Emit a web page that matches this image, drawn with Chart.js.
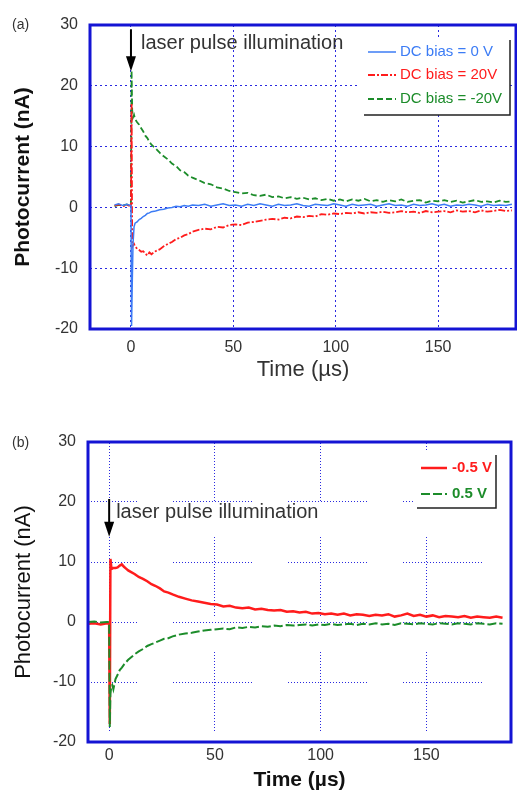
<!DOCTYPE html>
<html>
<head>
<meta charset="utf-8">
<title>Photocurrent transients</title>
<script src="https://cdn.jsdelivr.net/npm/chart.js@4.4.1/dist/chart.umd.min.js"></script>
<style>
  body { margin: 0; background: #fff; width: 517px; height: 793px; overflow: hidden; }
  canvas { position: absolute; left: 0; }
  #chartA { top: 0; }
  #chartB { top: 400px; }
</style>
</head>
<body>
<canvas id="chartA" width="517" height="395"></canvas>
<canvas id="chartB" width="517" height="393"></canvas>
<script>
// ---- panel (a): DC bias series ----
const timeA = [-8, -6, -4, -2, -1,
  0, 0.3, 0.6, 1, 1.5, 2,
  3, 4, 5, 6, 7, 8, 9, 10,
  12, 14, 16, 18, 20, 22, 24, 26, 28, 30,
  33, 36, 39, 42, 45, 48, 51, 54, 57, 60,
  63, 66, 69, 72, 75, 78, 81, 84, 87, 90,
  93, 96, 99, 102, 105, 108, 111, 114, 117, 120,
  123, 126, 129, 132, 135, 138, 141, 144, 147, 150,
  153, 156, 159, 162, 165, 168, 171, 174, 177, 180,
  183, 186];
const bias0V = [0.4, 0.6, 0.3, 0.5, 0.4,
  0.3, -19.5, -13, -6, -3.2, -2.6,
  -2.4, -2.0, -1.8, -1.5, -1.3, -1.0, -0.9, -0.7,
  -0.6, -0.4, -0.3, -0.1, 0.0, 0.2, 0.1, 0.3, 0.2, 0.4,
  0.3, 0.5, 0.2, 0.4, 0.6, 0.3, 0.4, 0.2, 0.5, 0.3,
  0.6, 0.4, 0.2, 0.5, 0.3, 0.4, 0.6, 0.3, 0.2, 0.5,
  0.4, 0.3, 0.6, 0.4, 0.2, 0.5, 0.3, 0.4, 0.5, 0.2,
  0.4, 0.6, 0.3, 0.4, 0.2, 0.5, 0.3, 0.4, 0.6, 0.3,
  0.5, 0.2, 0.4, 0.3, 0.5, 0.4, 0.2, 0.5, 0.3, 0.4,
  0.3, 0.5];
const bias20V = [0.3, 0.5, 0.2, 0.4, 0.3,
  0.3, 17, -6.5, -6.2, -6.0, -6.4,
  -6.8, -7.0, -7.3, -7.2, -7.6, -7.9, -7.4, -7.7,
  -7.2, -6.9, -6.4, -6.0, -5.7, -5.2, -5.0, -4.6, -4.4, -4.0,
  -3.7, -3.5, -3.6, -3.2, -3.3, -2.9, -2.8, -2.9, -2.5, -2.4,
  -2.2, -2.0, -1.9, -2.0, -1.7, -1.8, -1.5, -1.6, -1.4, -1.5,
  -1.1, -1.2, -1.0, -1.1, -0.9, -1.0, -0.8, -1.0, -0.8, -0.9,
  -0.7, -0.9, -0.8, -0.6, -0.8, -0.7, -0.9, -0.6, -0.8, -0.7,
  -0.6, -0.8, -0.5, -0.7, -0.6, -0.8, -0.5, -0.7, -0.6, -0.4,
  -0.6, -0.5];
const biasMinus20V = [0.2, 0.4, 0.3, 0.5, 0.3,
  0.3, 22.5, 16, 14.8, 15.2, 14.5,
  14.0, 13.6, 13.0, 12.5, 11.8, 11.4, 10.8, 10.3,
  9.7, 9.0, 8.4, 7.9, 7.2, 6.8, 6.1, 5.8, 5.2, 4.9,
  4.5, 4.0, 3.8, 3.3, 3.1, 2.7, 2.5, 2.3, 2.4, 2.0,
  1.9, 2.1, 1.7, 1.8, 1.5, 1.7, 1.4, 1.6, 1.3, 1.5,
  1.2, 1.4, 1.1, 1.3, 1.0, 1.3, 1.1, 1.4, 1.0, 1.2,
  0.9, 1.2, 1.0, 1.3, 0.9, 1.1, 1.2, 0.8, 1.1, 1.0,
  1.2, 0.9, 1.1, 0.8, 1.0, 1.2, 0.9, 1.0, 0.8, 1.1,
  0.9, 1.0];

// ---- panel (b): +/-0.5 V series ----
const timeB = [-10, -7, -4, -1,
  0, 0.3, 0.6, 1, 1.5, 2,
  3, 4, 5, 6, 7, 8, 9, 10,
  12, 14, 16, 18, 20, 22, 24, 26, 28, 30,
  33, 36, 39, 42, 45, 48, 51, 54, 57, 60,
  63, 66, 69, 72, 75, 78, 81, 84, 87, 90,
  93, 96, 99, 102, 105, 108, 111, 114, 117, 120,
  123, 126, 129, 132, 135, 138, 141, 144, 147, 150,
  153, 156, 159, 162, 165, 168, 171, 174, 177, 180,
  183, 186];
const biasMinus05V = [-0.3, -0.2, -0.4, -0.2,
  -0.3, -17, 10.5, 9.2, 8.9, 9.0,
  9.0, 9.1, 9.4, 9.6, 9.2, 8.9, 8.6, 8.4,
  8.0, 7.5, 7.2, 6.8, 6.3, 6.0, 5.6, 5.1, 4.9, 4.6,
  4.2, 3.9, 3.6, 3.4, 3.2, 3.0, 2.9, 2.6, 2.7, 2.4,
  2.3, 2.4, 2.1, 2.2, 2.0, 1.9, 2.0, 1.7, 1.8, 1.6,
  1.7, 1.4, 1.5, 1.3, 1.4, 1.2, 1.4, 1.1, 1.3, 1.2,
  1.0, 1.2, 1.1, 1.3, 0.9, 1.1, 1.4, 1.0, 1.2, 0.9,
  1.1, 0.8, 1.0, 0.9, 0.8, 1.0, 0.7, 0.9, 0.8, 0.7,
  0.9, 0.7];
const bias05V = [0.0, 0.1, -0.1, 0.0,
  0.0, -17.5, -12, -10.8, -10.5, -11.2,
  -9.5, -8.8, -8.0, -7.6, -7.1, -6.7, -6.3, -6.0,
  -5.4, -4.9, -4.5, -4.0, -3.7, -3.4, -3.1, -2.8, -2.7, -2.4,
  -2.1, -1.9, -1.8, -1.6, -1.4, -1.3, -1.2, -1.1, -1.2, -0.9,
  -1.0, -0.8, -0.9, -0.7, -0.8, -0.6, -0.7, -0.5, -0.6, -0.5,
  -0.4, -0.6, -0.4, -0.5, -0.3, -0.5, -0.4, -0.3, -0.5, -0.3,
  -0.4, -0.2, -0.4, -0.3, -0.5, -0.2, -0.3, -0.4, -0.2, -0.3,
  -0.4, -0.2, -0.3, -0.4, -0.2, -0.3, -0.4, -0.2, -0.3, -0.4,
  -0.2, -0.3];

// ticks
const xTicks = [0, 50, 100, 150];
const yTicks = [-20, -10, 0, 10, 20, 30];

const frameBlue = "#1414d4";
const gridBlue = "#2a2ae0";
const blue = "#3c7cf5";
const red = "#ff1c1c";
const green = "#1c8c2a";

// dotted grid for (a); broken dotted runs for (b)
const dottedDash = [2, 3];
const brokenDash = Array.from({ length: 26 }).flatMap(() => [1, 2]).concat([1, 36]);

Chart.defaults.font.family = '"Liberation Sans", Arial, sans-serif';

function toPoints(xs, ys) {
  return xs.map((t, i) => ({ x: t, y: ys[i] }));
}

// frame, panel tag, arrow note and boxed legend
const decorPlugin = {
  id: "decor",
  afterDatasetsDraw(chart, args, o) {
    const { ctx, chartArea: a, scales: { x, y } } = chart;
    ctx.save();

    // legend background hides the grid behind it
    const L = o.legend;
    ctx.fillStyle = "#fff";
    ctx.fillRect(L.bgLeft, L.bgTop, L.right - L.bgLeft, L.bottom - L.bgTop);

    ctx.strokeStyle = frameBlue;
    ctx.lineWidth = 3;
    ctx.strokeRect(a.left, a.top, a.right - a.left, a.bottom - a.top);

    ctx.fillStyle = "#333";
    ctx.font = '14px "Liberation Sans", Arial';
    ctx.textBaseline = "middle";
    ctx.textAlign = "left";
    ctx.fillText(o.panel, o.panelX, o.panelY);

    // arrow for the laser pulse
    const ar = o.arrow;
    const ax = x.getPixelForValue(ar.t);
    const y0 = y.getPixelForValue(ar.from);
    const y1 = y.getPixelForValue(ar.to);
    ctx.strokeStyle = "#000";
    ctx.lineWidth = 2;
    ctx.beginPath();
    ctx.moveTo(ax, y0);
    ctx.lineTo(ax, y1 - 12);
    ctx.stroke();
    ctx.fillStyle = "#000";
    ctx.beginPath();
    ctx.moveTo(ax - 5, y1 - 15);
    ctx.lineTo(ax + 5, y1 - 15);
    ctx.lineTo(ax, y1);
    ctx.closePath();
    ctx.fill();
    ctx.fillStyle = "#333";
    ctx.font = ar.font;
    ctx.fillText(ar.label, ax + ar.dx, y.getPixelForValue(ar.labelY));

    // legend box (shadow lines right and bottom)
    ctx.strokeStyle = "#222";
    ctx.lineWidth = 1.5;
    ctx.beginPath();
    ctx.moveTo(L.right, L.top);
    ctx.lineTo(L.right, L.bottom);
    ctx.lineTo(L.left, L.bottom);
    ctx.stroke();
    ctx.font = L.font;
    chart.data.datasets.forEach((ds, i) => {
      const ry = L.rows[i];
      ctx.strokeStyle = ds.borderColor;
      ctx.lineWidth = ds.borderWidth;
      ctx.setLineDash(ds.borderDash || []);
      ctx.beginPath();
      ctx.moveTo(L.sx0, ry);
      ctx.lineTo(L.sx1, ry);
      ctx.stroke();
      ctx.setLineDash([]);
      ctx.fillStyle = ds.borderColor;
      ctx.fillText(ds.label, L.tx, ry);
    });
    ctx.restore();
  }
};

function scalesFor(opt) {
  return {
    x: {
      type: "linear",
      min: opt.xMin,
      max: opt.xMax,
      afterBuildTicks: s => { s.ticks = xTicks.map(v => ({ value: v })); },
      afterFit: s => { s.height = opt.xHeight; },
      grid: { color: gridBlue, lineWidth: 1, drawTicks: false },
      border: { display: false, dash: opt.gridDash, dashOffset: opt.xDashOffset },
      ticks: { padding: opt.xTickPad, color: "#333", font: { size: 16 } },
      title: {
        display: true,
        text: "Time (µs)",
        color: opt.titleColor,
        font: { size: opt.xTitleSize, weight: opt.xTitleWeight },
        padding: { top: 0, bottom: opt.xTitlePad }
      }
    },
    y: {
      type: "linear",
      min: -20,
      max: 30,
      afterBuildTicks: s => { s.ticks = yTicks.map(v => ({ value: v })); },
      afterFit: s => { s.width = opt.yWidth; },
      grid: { color: gridBlue, lineWidth: 1, drawTicks: false },
      border: { display: false, dash: opt.gridDash, dashOffset: opt.yDashOffset },
      ticks: { padding: 12, color: "#333", font: { size: 16 } },
      title: {
        display: true,
        text: "Photocurrent (nA)",
        color: "#111",
        font: { size: opt.yTitleSize, weight: opt.yTitleWeight },
        padding: { top: opt.yTitlePad, bottom: 0 }
      }
    }
  };
}

new Chart(document.getElementById("chartA"), {
  type: "line",
  data: {
    datasets: [
      { label: "DC bias = 0 V", data: toPoints(timeA, bias0V), borderColor: blue,
        borderWidth: 1.5, order: 0 },
      { label: "DC bias = 20V", data: toPoints(timeA, bias20V), borderColor: red,
        borderWidth: 1.8, borderDash: [7, 2, 2, 2], order: 1 },
      { label: "DC bias = -20V", data: toPoints(timeA, biasMinus20V), borderColor: green,
        borderWidth: 1.8, borderDash: [6, 3], order: 2 }
    ]
  },
  options: {
    responsive: false,
    animation: false,
    elements: { point: { radius: 0 }, line: { tension: 0 } },
    layout: { padding: { top: 25, right: 1, left: 0, bottom: 0 } },
    scales: scalesFor({ xMin: -20, xMax: 188, xHeight: 66, xTickPad: 9,
      xTitleSize: 22, xTitleWeight: "normal", xTitlePad: 12, titleColor: "#333",
      yWidth: 90, yTitleSize: 21, yTitlePad: 11, yTitleWeight: "bold",
      gridDash: dottedDash, xDashOffset: 0, yDashOffset: 0 }),
    plugins: {
      legend: { display: false },
      tooltip: { enabled: false },
      decor: {
        panel: "(a)", panelX: 12, panelY: 25,
        arrow: { t: 0, from: 29.3, to: 22.4, label: "laser pulse illumination",
          labelY: 26.9, dx: 10, font: '20px "Liberation Sans", Arial' },
        legend: { bgLeft: 358, bgTop: 38, left: 364, right: 510, top: 40, bottom: 115,
          sx0: 368, sx1: 396, tx: 400, rows: [52, 75, 99],
          font: '15px "Liberation Sans", Arial' }
      }
    }
  },
  plugins: [decorPlugin]
});

new Chart(document.getElementById("chartB"), {
  type: "line",
  data: {
    datasets: [
      { label: "-0.5 V", data: toPoints(timeB, biasMinus05V), borderColor: red,
        borderWidth: 2.5, order: 1 },
      { label: "0.5 V", data: toPoints(timeB, bias05V), borderColor: green,
        borderWidth: 2, borderDash: [9, 3], order: 0 }
    ]
  },
  options: {
    responsive: false,
    animation: false,
    elements: { point: { radius: 0 }, line: { tension: 0 } },
    layout: { padding: { top: 42, right: 6, left: 0, bottom: 0 } },
    scales: scalesFor({ xMin: -10, xMax: 190, xHeight: 51, xTickPad: 4,
      xTitleSize: 21, xTitleWeight: "bold", xTitlePad: 0, titleColor: "#111",
      yWidth: 88, yTitleSize: 22, yTitlePad: 11, yTitleWeight: "normal",
      gridDash: brokenDash, xDashOffset: 20, yDashOffset: 30 }),
    plugins: {
      legend: { display: false },
      tooltip: { enabled: false },
      decor: {
        panel: "(b)", panelX: 12, panelY: 43,
        arrow: { t: 0, from: 20.5, to: 14.2, label: "laser pulse illumination",
          labelY: 18.3, dx: 7, font: '20px "Liberation Sans", Arial' },
        legend: { bgLeft: 413, bgTop: 50, left: 417, right: 496, top: 55, bottom: 108,
          sx0: 421, sx1: 447, tx: 452, rows: [68, 94],
          font: 'bold 15px "Liberation Sans", Arial' }
      }
    }
  },
  plugins: [decorPlugin]
});
</script>
</body>
</html>
